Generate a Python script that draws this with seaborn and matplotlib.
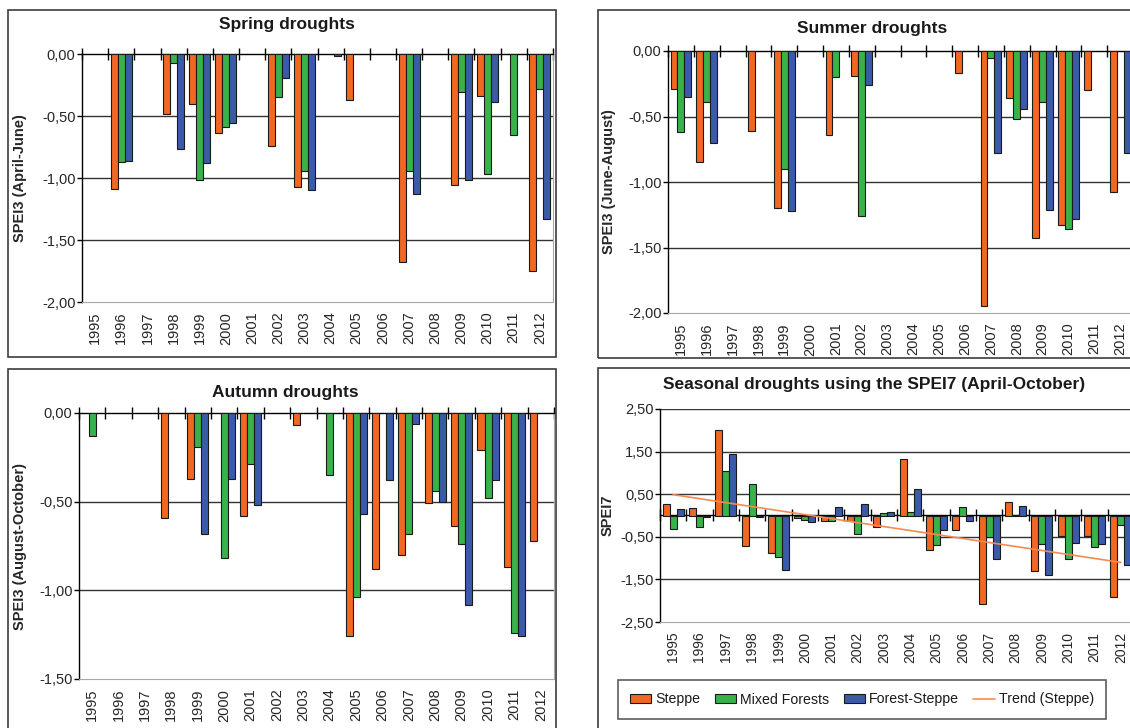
import numpy as np
import pandas as pd
import matplotlib
matplotlib.use("Agg")
import matplotlib.pyplot as plt
import seaborn as sns
from matplotlib.patches import Rectangle, Patch
from matplotlib.lines import Line2D
from matplotlib.ticker import FuncFormatter

nan = np.nan
years = [str(y) for y in range(1995, 2013)]
regions = ["Steppe", "Mixed Forests", "Forest-Steppe"]

spring_steppe = [nan, -1.09, nan, -0.48, -0.40, -0.64, nan, -0.74, -1.07, nan, -0.37, nan, -1.68, nan, -1.06, -0.34, nan, -1.75]
spring_mixed = [nan, -0.87, nan, -0.07, -1.02, -0.59, nan, -0.35, -0.94, nan, nan, nan, -0.94, nan, -0.31, -0.97, -0.65, -0.28]
spring_forest = [nan, -0.86, nan, -0.77, -0.88, -0.56, nan, -0.19, -1.10, -0.02, nan, nan, -1.13, nan, -1.02, -0.39, nan, -1.33]

summer_steppe = [-0.29, -0.85, nan, -0.61, -1.20, nan, -0.64, -0.19, nan, nan, nan, -0.17, -1.95, -0.36, -1.43, -1.33, -0.30, -1.08]
summer_mixed = [-0.62, -0.39, nan, nan, -0.90, nan, -0.20, -1.26, nan, nan, nan, nan, -0.05, -0.52, -0.39, -1.36, nan, nan]
summer_forest = [-0.35, -0.70, nan, nan, -1.22, nan, nan, -0.26, nan, nan, nan, nan, -0.78, -0.44, -1.21, -1.28, nan, -0.78]

autumn_steppe = [nan, nan, nan, -0.59, -0.37, nan, -0.58, nan, -0.07, nan, -1.26, -0.88, -0.80, -0.51, -0.64, -0.21, -0.87, -0.72]
autumn_mixed = [-0.13, nan, nan, nan, -0.19, -0.82, -0.29, nan, nan, -0.35, -1.04, nan, -0.68, -0.44, -0.74, -0.48, -1.24, nan]
autumn_forest = [nan, nan, nan, nan, -0.68, -0.37, -0.52, nan, nan, nan, -0.57, -0.38, -0.06, -0.50, -1.08, -0.38, -1.26, nan]

spei7_steppe = [0.26, 0.18, 2.00, -0.71, -0.87, -0.07, -0.14, -0.12, -0.27, 1.33, -0.81, -0.34, -2.07, 0.32, -1.31, -0.49, -0.49, -1.91]
spei7_mixed = [-0.31, -0.27, 1.04, 0.73, -0.98, -0.11, -0.14, -0.43, 0.07, 0.09, -0.70, 0.20, -0.50, 0.02, -0.66, -1.03, -0.75, -0.23]
spei7_forest = [0.16, -0.04, 1.45, -0.03, -1.28, -0.16, 0.20, 0.26, 0.09, 0.62, -0.34, -0.13, -1.03, 0.23, -1.39, -0.64, -0.68, -1.17]

colors = ["#F26722", "#38B34A", "#3A5BA9"]
trend_color = "#F58A50"

sns.set_style("white")
plt.rcParams["font.family"] = ["Liberation Sans", "DejaVu Sans"]
plt.rcParams["text.color"] = "#1a1a1a"

W, H = 1130, 728
fig = plt.figure(figsize=(W / 100, H / 100), dpi=100)
fig.patch.set_facecolor("white")


def px_axes(l, t, r, b):
    return fig.add_axes([l / W, 1 - b / H, (r - l) / W, (b - t) / H])


def frame(l, t, r, b):
    fig.add_artist(Rectangle((l / W, 1 - b / H), (r - l) / W, (b - t) / H,
                             transform=fig.transFigure, fill=False,
                             edgecolor="#3c3c3c", lw=1.2, zorder=0))


fmt = FuncFormatter(lambda v, p: f"{v:.2f}".replace(".", ","))


def draw_panel(ax, s, m, f, ylim, ticks, ylabel, label_x, zero_mid=False, xsize=10.5):
    df = pd.DataFrame({"Year": years * 3,
                       "Region": np.repeat(regions, len(years)),
                       "SPEI": list(s) + list(m) + list(f)})
    sns.barplot(data=df, x="Year", y="SPEI", hue="Region", order=years,
                hue_order=regions, palette=colors, saturation=1,
                edgecolor="#1a1a1a", linewidth=0.8, errorbar=None, width=0.8,
                legend=False, ax=ax, zorder=3)
    ax.set_xlim(-0.5, len(years) - 0.5)
    ax.set_ylim(*ylim)
    ax.set_yticks(ticks)
    ax.yaxis.set_major_formatter(fmt)
    ax.set_xlabel("")
    ax.set_ylabel(ylabel, fontweight="bold", fontsize=10.5)
    ax.yaxis.set_label_coords(label_x, 0.5)
    ax.set_axisbelow(True)
    ax.yaxis.grid(True, color="#333333", lw=1.0)
    for t, loc in zip(ax.yaxis.get_major_ticks(), ticks):
        if np.isclose(loc, ylim[0]) or (not zero_mid and np.isclose(loc, ylim[1])):
            t.gridline.set_visible(False)
    ax.spines["left"].set_color("black")
    ax.spines["left"].set_linewidth(1.0)
    ax.spines["right"].set_color("#a8a8a8")
    ax.spines["bottom"].set_color("#a8a8a8")
    ax.spines["top"].set_color("black")
    ax.spines["top"].set_linewidth(1.0)
    if zero_mid:
        ax.spines["top"].set_position(("data", 0))
    ax.set_xticks(np.arange(-0.5, len(years), 1), minor=True)
    ax.tick_params(axis="y", which="major", left=True, direction="out",
                   length=3.6, width=1, color="black", pad=1.0, labelsize=10.5)
    ax.tick_params(axis="x", which="major", length=0, pad=7,
                   labelrotation=90, labelsize=xsize, bottom=True, top=False)
    ax.tick_params(axis="x", which="minor", top=True, bottom=False,
                   direction="inout", length=8, width=1, color="black")


# frames
frame(8, 10, 556, 357)
frame(598, 10, 1145, 358)
frame(8, 369, 556, 740)
frame(598, 368, 1145, 740)

# Spring
ax1 = px_axes(82, 54, 553, 302)
draw_panel(ax1, spring_steppe, spring_mixed, spring_forest, (-2.0, 0.0),
           [-2.0, -1.5, -1.0, -0.5, 0.0], "SPEI3 (April-June)", -0.117)
fig.text(287 / W, 1 - 25 / H, "Spring droughts", ha="center", va="center",
         fontweight="bold", fontsize=12.5)

# Summer
ax2 = px_axes(668, 51, 1133, 313)
draw_panel(ax2, summer_steppe, summer_mixed, summer_forest, (-2.0, 0.0),
           [-2.0, -1.5, -1.0, -0.5, 0.0], "SPEI3 (June-August)", -0.112)
fig.text(872 / W, 1 - 28 / H, "Summer droughts", ha="center", va="center",
         fontweight="bold", fontsize=12.5)

# Autumn
ax3 = px_axes(79, 413, 554, 679)
draw_panel(ax3, autumn_steppe, autumn_mixed, autumn_forest, (-1.5, 0.0),
           [-1.5, -1.0, -0.5, 0.0], "SPEI3 (August-October)", -0.109)
fig.text(285 / W, 1 - 392 / H, "Autumn droughts", ha="center", va="center",
         fontweight="bold", fontsize=12.5)

# SPEI7
ax4 = px_axes(660, 409, 1134, 622)
draw_panel(ax4, spei7_steppe, spei7_mixed, spei7_forest, (-2.5, 2.5),
           [-2.5, -1.5, -0.5, 0.5, 1.5, 2.5], "SPEI7", -0.095, zero_mid=True,
           xsize=10)
xpos = np.arange(len(years))
coef = np.polyfit(xpos, np.array(spei7_steppe), 1)
sns.lineplot(x=xpos, y=np.polyval(coef, xpos), color=trend_color, lw=1.2,
             ax=ax4, zorder=4)
ax4.set_xlim(-0.5, len(years) - 0.5)
fig.text(874 / W, 1 - 385 / H, "Seasonal droughts using the SPEI7 (April-October)",
         ha="center", va="center", fontweight="bold", fontsize=12.5)

handles = [Patch(facecolor=c, edgecolor="#1a1a1a", lw=0.8) for c in colors]
handles.append(Line2D([0], [0], color=trend_color, lw=1.2))
labels = regions + ["Trend (Steppe)"]
leg = fig.legend(handles, labels, loc="center", bbox_to_anchor=(862 / W, 1 - 699.5 / H),
                 ncol=4, frameon=True, fancybox=False, fontsize=10.2,
                 handlelength=1.5, handleheight=0.6, columnspacing=1.0,
                 handletextpad=0.3, borderpad=0.85)
leg.get_frame().set_edgecolor("#333333")
leg.get_frame().set_linewidth(1.2)

fig.savefig("out.png", dpi=100, facecolor="white")
